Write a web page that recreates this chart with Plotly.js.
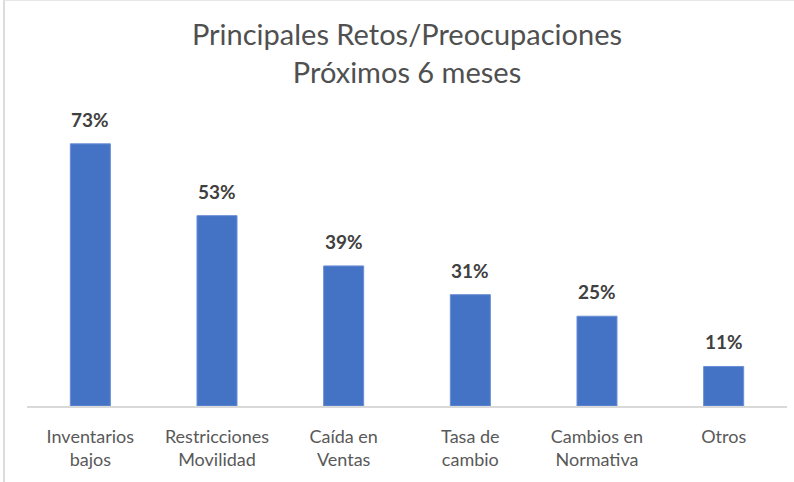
<!DOCTYPE html>
<html>
<head>
<meta charset="utf-8">
<script src="https://cdn.plot.ly/plotly-3.0.1.min.js"></script>
<style>
html,body{margin:0;padding:0;background:#fff;}
#chart{width:794px;height:482px;}
</style>
</head>
<body>
<div id="chart"></div>
<script>
const categories = ["Inventarios<br>bajos", "Restricciones<br>Movilidad", "Caída en<br>Ventas", "Tasa de<br>cambio", "Cambios en<br>Normativa", "Otros"];
const values = [73, 53, 39, 31, 25, 11];
const valueLabels = ["73%", "53%", "39%", "31%", "25%", "11%"];
const chartTitle = "Principales Retos/Preocupaciones<br>Próximos 6 meses";

const FONT = "Lato, 'Open Sans', sans-serif";

const trace = {
  type: "bar",
  x: categories,
  y: values,
  marker: {color: "#4472C4", line: {color: "#6b8fd6", width: 1}},
  hoverinfo: "none"
};

const annotations = categories.map((c, i) => ({
  x: c, y: values[i], xref: "x", yref: "y",
  text: "<b>" + valueLabels[i] + "</b>",
  showarrow: false, yanchor: "bottom", yshift: 11,
  font: {family: FONT, size: 19, color: "#404040"}
}));

const layout = {
  width: 794, height: 482,
  margin: {l: 27, r: 7, t: 100, b: 76},
  paper_bgcolor: "#fff", plot_bgcolor: "#fff",
  showlegend: false,
  bargap: 0.684,
  title: {
    text: chartTitle,
    x: 0.5, xref: "paper", xanchor: "center",
    y: 1 - 45/482, yref: "container", yanchor: "top",
    font: {family: FONT, size: 29, color: "#505050"}
  },
  xaxis: {
    showline: true, linecolor: "#d9d9d9", linewidth: 2,
    showgrid: false, zeroline: false, ticks: "",
    ticklabelstandoff: 13,
    tickfont: {family: FONT, size: 18, color: "#595959"},
    fixedrange: true
  },
  yaxis: {
    range: [0, 85.2], visible: false, showgrid: false, zeroline: false, fixedrange: true
  },
  annotations: annotations,
  shapes: [
    {type: "line", xref: "paper", yref: "paper",
     x0: -23/760, x1: -23/760, y0: -76/306, y1: 100/306 + 1,
     line: {color: "#dcdcdc", width: 2}},
    {type: "line", xref: "paper", yref: "paper",
     x0: -23/760, x1: 1 + 7/760, y0: 1 + 99.5/306, y1: 1 + 99.5/306,
     line: {color: "#e6e6e6", width: 1}}
  ]
};

Plotly.newPlot("chart", [trace], layout, {displayModeBar: false, staticPlot: true});
</script>
</body>
</html>
